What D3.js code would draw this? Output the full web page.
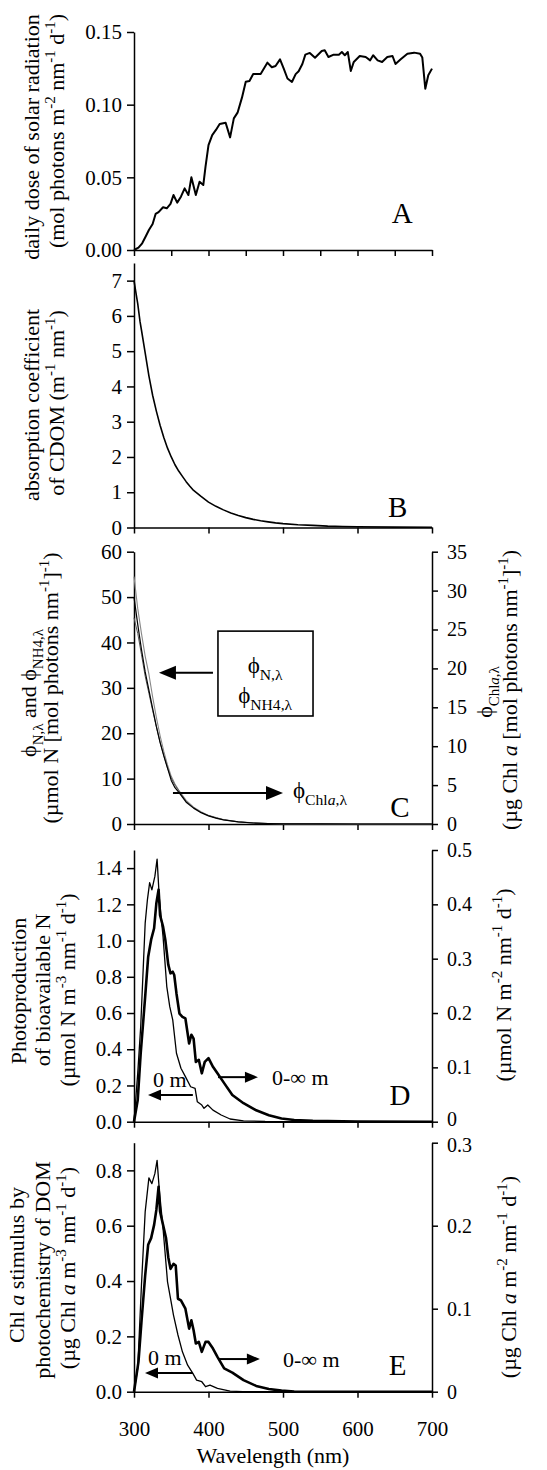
<!DOCTYPE html>
<html><head><meta charset="utf-8">
<script src="https://cdn.jsdelivr.net/npm/d3@7"></script>
<style>
body{margin:0;background:#fff}
svg{display:block}
text{font-family:"Liberation Serif","Times New Roman",serif;fill:#000}
</style>
</head><body>
<svg id="c" width="547" height="1470"></svg>
<script>
// ---------------- DATA ----------------
// Panel A: daily dose of solar radiation
const wlA = [300,306,311,316,320,325,329,333,339,344,349,353,358,363,368,373,377,383,388,393,396,400,405,410,415,423,429,434,439,445,450,455,460,470,479,485,490,496,501,506,512,517,521,526,530,536,543,552,556,561,568,575,579,583,587,591,595,603,611,617,621,627,633,640,647,651,658,667,676,684,687,691,695,700];
const solarA = [0,0.0016,0.0046,0.0096,0.0138,0.0179,0.0248,0.0261,0.0294,0.0287,0.0317,0.0378,0.0326,0.0367,0.0424,0.0378,0.050,0.0378,0.047,0.0447,0.0573,0.0722,0.0791,0.0826,0.0867,0.0876,0.0775,0.0906,0.0945,0.1050,0.1158,0.1163,0.1211,0.1211,0.1289,0.1257,0.1266,0.1312,0.1248,0.118,0.1156,0.121,0.123,0.128,0.1344,0.1356,0.1323,0.1369,0.1374,0.1328,0.1344,0.1344,0.1362,0.134,0.1362,0.1232,0.1294,0.1335,0.1328,0.1305,0.134,0.1305,0.1294,0.1328,0.1335,0.128,0.1312,0.1351,0.1358,0.1351,0.1324,0.111,0.1202,0.1248];

// Panel B: CDOM absorption coefficient
const wlB = [300,303,305,308,310,315,320,325,330,335,340,345,350,355,360,365,370,375,380,390,400,410,420,430,440,450,460,470,480,490,500,520,540,560,580,600,650,700];
const cdomB = [7.0,6.6,6.35,5.85,5.6,4.95,4.3,3.75,3.3,2.9,2.55,2.25,2.0,1.78,1.6,1.45,1.3,1.17,1.05,0.88,0.72,0.6,0.5,0.41,0.34,0.28,0.23,0.19,0.16,0.13,0.11,0.08,0.06,0.04,0.03,0.02,0.01,0.005];

// Panel C: quantum yields
const wlC = [300,305,310,315,320,325,330,335,340,345,350,355,360,365,370,380,390,400,410,420,440,460,480,500,550,600,700];
const phiN = [54.5,47.5,42,37,33,28,23.5,19.5,16,13,10.5,8.8,7.5,6.3,5.2,3.7,2.7,1.9,1.4,1.0,0.5,0.25,0.12,0.06,0.02,0.01,0];
const phiNH4 = [50,44,38.5,33.5,29.5,25.5,21.5,18,15,12.3,9.6,8,7,5.9,4.8,3.5,2.5,1.8,1.3,0.9,0.45,0.22,0.11,0.05,0.015,0.005,0];
const phiChl = [26.5,24.5,21.8,19,16.8,14.6,12.5,10.5,8.8,7.2,5.9,5.0,4.3,3.6,2.9,2.1,1.5,1.08,0.8,0.55,0.27,0.13,0.06,0.03,0.01,0.005,0];

// Panel D: photoproduction of bioavailable N
const wlD0 = [300,305,309,315,318,321,324,328,331,334,339,344,348,352,357,363,369,376,382,385,391,394,399,406,417,429,447,476,500,700];
const nSurfD = [0,0.267,0.525,1.096,1.225,1.32,1.28,1.354,1.45,1.234,1.022,0.746,0.635,0.562,0.378,0.295,0.249,0.193,0.184,0.11,0.092,0.074,0.092,0.064,0.037,0.015,0.005,0.001,0,0];
const wlDint = [300,305,309,315,319,323,327,330,333,335,339,342,346,349,352,354,357,361,365,369,374,377,380,383,387,391,395,400,406,412,421,432,447,464,481,498,515,540,600,700];
const nIntD = [0,0.04,0.126,0.23,0.303,0.335,0.356,0.402,0.427,0.38,0.359,0.335,0.289,0.273,0.276,0.27,0.236,0.199,0.193,0.19,0.144,0.16,0.153,0.11,0.114,0.089,0.11,0.117,0.101,0.089,0.071,0.049,0.034,0.021,0.012,0.006,0.003,0.0017,0.0005,0];

// Panel E: Chl a stimulus
const wlE0 = [300,305,310,315,320,324,328,331,334,339,345,349,353,359,365,372,379,384,391,396,402,412,429,446,700];
const chlSurfE = [0,0.084,0.385,0.65,0.773,0.752,0.788,0.836,0.728,0.59,0.397,0.337,0.277,0.205,0.144,0.096,0.066,0.042,0.036,0.018,0.024,0.012,0.002,0,0];
const wlEint = [300,306,310,315,319,323,327,330,333,335,339,343,346,349,353,356,359,363,369,374,377,380,383,387,391,396,400,406,412,421,432,447,464,481,498,515,700];
const chlIntE = [0,0.036,0.084,0.14,0.177,0.185,0.201,0.219,0.247,0.217,0.201,0.185,0.162,0.148,0.154,0.152,0.112,0.11,0.1,0.076,0.086,0.074,0.058,0.06,0.048,0.06,0.06,0.052,0.042,0.028,0.023,0.014,0.007,0.0033,0.0013,0.0003,0];

// Tick values / labels
const xTicksA = [300,350,400,450,500,550,600,650,700];
const xTicks = [300,400,500,600,700];
const yTicksA = [0,0.05,0.10,0.15];
const yTicksB = [0,1,2,3,4,5,6,7];
const yTicksC = [0,10,20,30,40,50,60];
const yTicksC2 = [0,5,10,15,20,25,30,35];
const yTicksD = [0,0.2,0.4,0.6,0.8,1.0,1.2,1.4];
const yTicksD2 = [0,0.1,0.2,0.3,0.4,0.5];
const yTicksE = [0,0.2,0.4,0.6,0.8];
const yTicksE2 = [0,0.1,0.2,0.3];

// ---------------- DRAW ----------------
const svg = d3.select('#c');
const X0 = 134, X1 = 432;
const x = d3.scaleLinear().domain([300,700]).range([X0,X1]);
const FS = 21;   // tick labels
const TS = 22;   // axis titles

function styleAxis(g, fs){
  g.attr('font-family',null);
  g.select('.domain').attr('stroke','#000').attr('stroke-width',1.5);
  g.selectAll('.tick line').attr('stroke','#000').attr('stroke-width',1.5);
  g.selectAll('.tick text').attr('font-size',fs||FS).attr('fill','#000');
}
function xAxis(y0, ticks, labels){
  const g = svg.append('g').attr('transform',`translate(0,${y0})`)
    .call(d3.axisBottom(x).tickValues(ticks).tickSize(6).tickSizeOuter(0)
      .tickFormat(labels ? d3.format('d') : ''));
  styleAxis(g);
  if(labels) g.selectAll('.tick text').attr('y',44).attr('dy',0);
  return g;
}
function yAxisL(y, ticks, fmt){
  const g = svg.append('g').attr('transform',`translate(${X0},0)`)
    .call(d3.axisLeft(y).tickValues(ticks).tickSize(7).tickSizeOuter(0).tickPadding(5).tickFormat(fmt));
  styleAxis(g);
  return g;
}
function yAxisR(y, ticks, fmt){
  const g = svg.append('g').attr('transform',`translate(${X1},0)`)
    .call(d3.axisRight(y).tickValues(ticks).tickSize(6).tickSizeOuter(0).tickPadding(9).tickFormat(fmt));
  styleAxis(g, 20);
  return g;
}
function curve(xs, ys, y, w, color){
  const data = xs.map((d,i)=>[d,ys[i]]);
  svg.append('path').datum(data)
    .attr('fill','none').attr('stroke',color||'#000').attr('stroke-width',w)
    .attr('stroke-linejoin','round')
    .attr('d', d3.line().x(d=>x(d[0])).y(d=>y(d[1])));
}
function rich(px, py, segs, opt){
  opt = opt||{};
  const size = opt.size||FS;
  const g = svg.append('g').attr('transform',`translate(${px},${py})`+(opt.rotate?` rotate(${opt.rotate})`:''));
  const t = g.append('text').attr('text-anchor',opt.anchor||'middle').attr('font-size',size);
  let cur = 0;
  segs.forEach(s=>{
    const sg = (typeof s==='string') ? {t:s} : s;
    const off = sg.sup ? -0.4*size : sg.sub ? 0.3*size : 0;
    const ts = t.append('tspan').text(sg.t).attr('dy', off-cur);
    if(sg.sup||sg.sub) ts.attr('font-size', 0.68*size);
    if(sg.it) ts.attr('font-style','italic');
    cur = off;
  });
  return t;
}
function arrow(xa, xb, yy, head, hw){
  const dir = xb > xa ? 1 : -1;
  svg.append('line').attr('x1',xa).attr('x2',xb-dir*head*0.8).attr('y1',yy).attr('y2',yy)
    .attr('stroke','#000').attr('stroke-width',2);
  svg.append('path').attr('d',`M${xb},${yy}L${xb-dir*head},${yy-hw}L${xb-dir*head},${yy+hw}Z`).attr('fill','#000');
}
const sup = t=>({t, sup:true});
const sub = t=>({t, sub:true});

// ---- Panel A ----
const yA = d3.scaleLinear().domain([0,0.15]).range([250,32]);
yAxisL(yA, yTicksA, d3.format('.2f'));
xAxis(250, xTicksA, false);
curve(wlA, solarA, yA, 2);
rich(x(660), yA(0.0186), ['A'], {size:29});
rich(39, 137, ['daily dose of solar radiation'], {rotate:-90, size:TS});
rich(64, 131, ['(mol photons m', sup('-2'), ' nm', sup('-1'), ' d', sup('-1'), ')'], {rotate:-90, size:TS});

// ---- Panel B ----
const yB = d3.scaleLinear().domain([0,7.5]).range([527.5,263]);
yAxisL(yB, yTicksB, d3.format('d'));
xAxis(527.5, xTicks, false);
curve(wlB, cdomB, yB, 1.6);
rich(x(654), yB(0.306), ['B'], {size:29});
rich(39, 405, ['absorption coefficient'], {rotate:-90, size:TS});
rich(64, 403, ['of CDOM (m', sup('-1'), ' nm', sup('-1'), ')'], {rotate:-90, size:TS});

// ---- Panel C ----
const yC = d3.scaleLinear().domain([0,60]).range([824,551.7]);
const yC2 = d3.scaleLinear().domain([0,35]).range([824,551.7]);
yAxisL(yC, yTicksC, d3.format('d'));
yAxisR(yC2, yTicksC2, d3.format('d'));
xAxis(824, xTicks, false);
curve(wlC, phiN, yC, 1.1, '#888');
curve(wlC, phiChl, yC2, 1.0, '#555');
curve(wlC, phiNH4, yC, 1.2, '#000');
svg.append('rect').attr('x',x(412.7)).attr('y',yC(42.5)).attr('width',x(540.3)-x(412.7)).attr('height',yC(23.8)-yC(42.5))
  .attr('fill','none').attr('stroke','#000').attr('stroke-width',1.6);
rich(x(476), yC(33.3), ['\u03D5', sub('N,\u03BB')], {size:23});
rich(x(476), yC(26.7), ['\u03D5', sub('NH4,\u03BB')], {size:23});
arrow(x(406), x(333.5), yC(33.3), 17, 7);
arrow(x(352.3), x(500), yC(6.83), 17, 7);
rich(x(513.4), yC(5.73), ['\u03D5', sub('Chl'), {t:'a',sub:true,it:true}, sub(',\u03BB')], {size:23, anchor:'start'});
rich(x(657), yC(1.5), ['C'], {size:29});
rich(36, 693, ['\u03D5', sub('N,\u03BB'), ' and \u03D5', sub('NH4,\u03BB')], {rotate:-90, size:TS});
rich(58, 688, ['(\u00B5mol N [mol photons nm', sup('-1'), ']', sup('-1'), ')'], {rotate:-90, size:TS});
rich(492, 692, ['\u03D5', sub('Chl'), {t:'a',sub:true,it:true}, sub(',\u03BB')], {rotate:-90, size:TS});
rich(517, 690, ['(\u00B5g Chl ', {t:'a',it:true}, ' [mol photons nm', sup('-1'), ']', sup('-1'), ')'], {rotate:-90, size:TS});

// ---- Panel D ----
const yD = d3.scaleLinear().domain([0,1.5]).range([1121.7,850]);
const yD2 = d3.scaleLinear().domain([0,0.5]).range([1121.7,850]);
yAxisL(yD, yTicksD, d3.format('.1f'));
const axDR = yAxisR(yD2, yTicksD2, d=> d===0 ? '0' : d3.format('.1f')(d));
axDR.selectAll('.tick text').filter(d=>d===0).attr('dy','0.2em');
xAxis(1121.7, xTicks, false);
curve(wlD0, nSurfD, yD, 1.3);
curve(wlDint, nIntD, yD2, 2.6);
rich(x(325.5), yD(0.19), ['0 m'], {size:22, anchor:'start'});
arrow(x(379), x(318.8), yD(0.147), 13, 5.5);
arrow(x(412.8), x(466.4), yD(0.246), 13, 5.5);
rich(x(485.2), yD(0.203), ['0-\u221E m'], {size:22, anchor:'start'});
rich(x(657), yD(0.092), ['D'], {size:29});
rich(26, 991, ['Photoproduction'], {rotate:-90, size:TS});
rich(50, 990, ['of bioavailable N'], {rotate:-90, size:TS});
rich(75, 990, ['(\u00B5mol N m', sup('-3'), ' nm', sup('-1'), ' d', sup('-1'), ')'], {rotate:-90, size:TS});
rich(511, 985, ['(\u00B5mol N m', sup('-2'), ' nm', sup('-1'), ' d', sup('-1'), ')'], {rotate:-90, size:TS});

// ---- Panel E ----
const yE = d3.scaleLinear().domain([0,0.9]).range([1391.7,1142.7]);
const yE2 = d3.scaleLinear().domain([0,0.3]).range([1391.7,1142.7]);
yAxisL(yE, yTicksE, d3.format('.1f'));
const axER = yAxisR(yE2, yTicksE2, d=> d===0 ? '0' : d3.format('.1f')(d));
axER.selectAll('.tick text').filter(d=>d===0.3).attr('dy','0.45em');
xAxis(1391.7, xTicks, true);
curve(wlE0, chlSurfE, yE, 1.3);
curve(wlEint, chlIntE, yE2, 2.6);
rich(x(318.8), yE(0.0965), ['0 m'], {size:22, anchor:'start'});
arrow(x(379.2), x(314.8), yE(0.0676), 13, 5.5);
arrow(x(412.8), x(469), yE(0.118), 13, 5.5);
rich(x(500), yE(0.089), ['0-\u221E m'], {size:22, anchor:'start'});
rich(x(654), yE(0.06), ['E'], {size:29});
rich(24, 1265, ['Chl ', {t:'a',it:true}, ' stimulus by'], {rotate:-90, size:TS});
rich(50, 1270, ['photochemistry of DOM'], {rotate:-90, size:TS});
rich(75, 1268, ['(\u00B5g Chl ', {t:'a',it:true}, '  m', sup('-3'), ' nm', sup('-1'), ' d', sup('-1'), ')'], {rotate:-90, size:TS});
rich(516, 1277, ['(\u00B5g Chl ', {t:'a',it:true}, '  m', sup('-2'), ' nm', sup('-1'), ' d', sup('-1'), ')'], {rotate:-90, size:TS});
rich(273, 1463, ['Wavelength (nm)'], {size:TS});
</script>
</body></html>
